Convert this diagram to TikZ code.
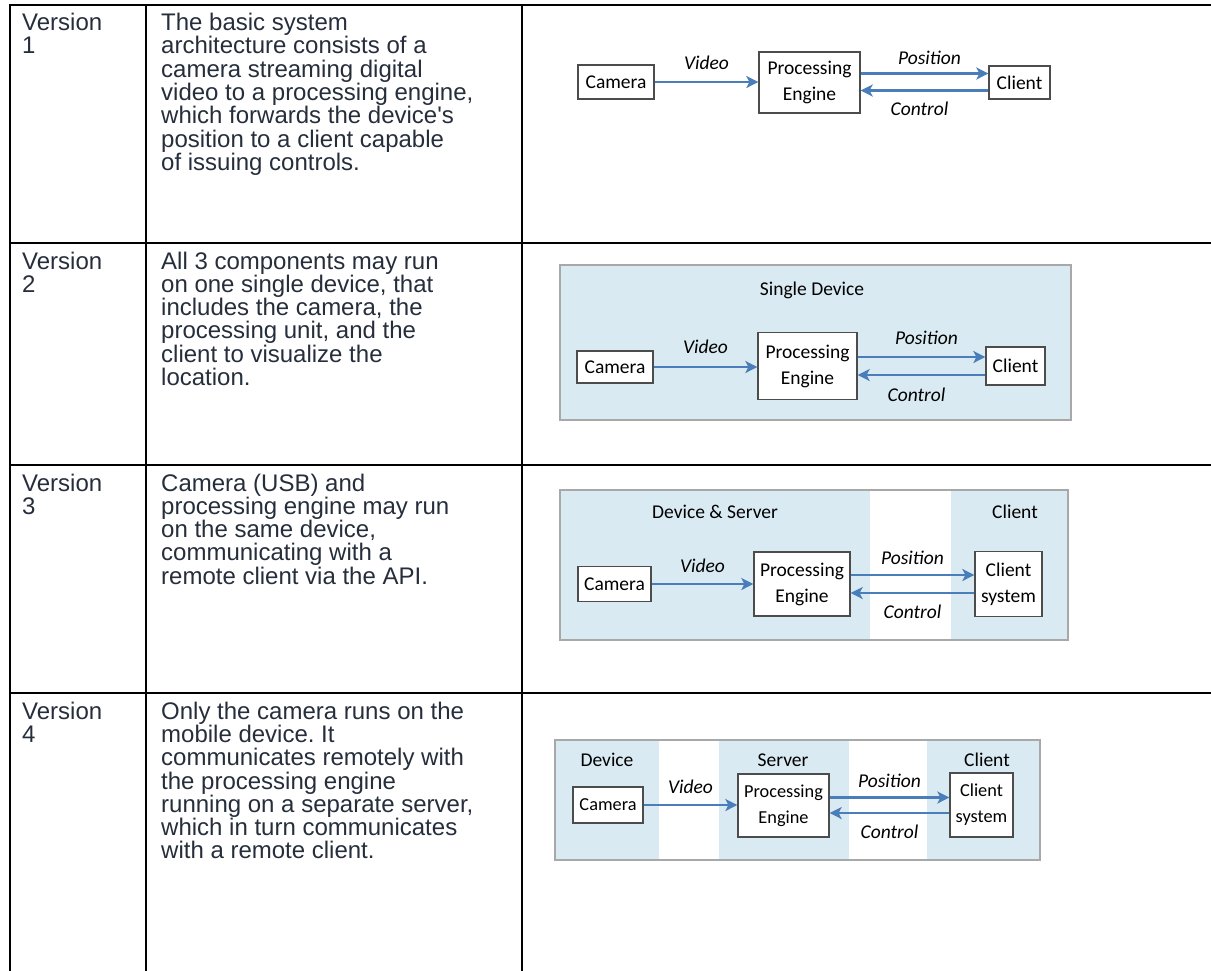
\documentclass[tikz,border=0pt]{standalone}
\usepackage{fontspec}
\setmainfont{Liberation Sans}
\newfontfamily\figfont{Carlito}
\usetikzlibrary{arrows.meta}
\frenchspacing

\definecolor{txtgray}{RGB}{38,46,60}
\definecolor{zoneblue}{RGB}{218,234,242}
\definecolor{flowblue}{RGB}{74,126,187}
\definecolor{zoneframe}{RGB}{168,168,168}

\tikzset{
  cell/.style={anchor=north west, align=left, inner sep=0pt, text=txtgray,
    font=\fontsize{24}{23.3}\selectfont},
  comp/.style={draw=black!70, fill=white, line width=1.3pt, align=center, inner sep=0pt,
    font=\figfont\fontsize{19.5}{26}\selectfont},
  smallcomp/.style={comp, font=\figfont\fontsize{18.3}{26}\selectfont},
  flow/.style={draw=flowblue, line width=2.6pt, -{Stealth[length=12pt,width=12pt,inset=3pt]}},
  lbl/.style={font=\figfont\itshape\fontsize{19.5}{21}\selectfont, midway},
  zonetitle/.style={font=\figfont\fontsize{19.5}{21}\selectfont},
  zone/.style={fill=zoneblue},
  zonebox/.style={draw=zoneframe, line width=2pt},
}

\begin{document}
\begin{tikzpicture}[x=1pt,y=-1pt]
  \useasboundingbox (0,0) rectangle (1211,970);
  \clip (0,0) rectangle (1211,970);

% table grid
  \draw[line width=2pt] (9.5,4.5) rectangle (1230,990);
  \foreach \y in {243,465,693} {
      \draw[line width=2pt] (9.5,\y) -- (1230,\y);
  }
  \foreach \x in {146,522} {
      \draw[line width=2pt] (\x,4.5) -- (\x,990);
  }

% table text
  \node[cell] (ver1) at (22,13) {Version\\1};
  \node[cell] (txt1) at (161,13) {The basic system\\architecture consists of a\\camera streaming digital\\video to a processing engine,\\which forwards the device\textquotesingle s\\position to a client capable\\of issuing controls.};
  \node[cell] (ver2) at (22,251.5) {Version\\2};
  \node[cell] (txt2) at (161,251.5) {All 3 components may run\\on one single device, that\\includes the camera, the\\processing unit, and the\\client to visualize the\\location.};
  \node[cell] (ver3) at (22,473.5) {Version\\3};
  \node[cell] (txt3) at (161,473.5) {Camera (USB) and\\processing engine may run\\on the same device,\\communicating with a\\remote client via the API.};
  \node[cell] (ver4) at (22,701.5) {Version\\4};
  \node[cell] (txt4) at (161,701.5) {Only the camera runs on the\\mobile device. It\\communicates remotely with\\the processing engine\\running on a separate server,\\which in turn communicates\\with a remote client.};

% version 1: plain chain
  \node[comp, minimum width=76pt, minimum height=34pt] (cam1) at (616,82) {Camera};
  \node[comp, minimum width=101pt, minimum height=61pt] (eng1) at (809.5,82.5) {Processing\\Engine};
  \node[comp, minimum width=61pt, minimum height=33pt] (cli1) at (1019.5,82.5) {Client};
  \draw[flow] (cam1.east) -- (cam1.east -| eng1.west) node[lbl, yshift=19pt] (vid1) {Video};
  \draw[flow] ([yshift=9pt]eng1.east) -- ([yshift=9pt]eng1.east -| cli1.west) node[lbl, yshift=16pt, xshift=5pt] (pos1) {Position};
  \draw[flow] ([yshift=-8pt]cli1.west) -- ([yshift=-8pt]cli1.west -| eng1.east) node[lbl, yshift=-18pt, xshift=-5pt] (ctl1) {Control};

% version 2: single device
  \fill[zone] (560,265) rectangle (1071,420);
  \draw[zonebox] (560,265) rectangle (1071,420);
  \node[zonetitle] (dev2) at (812,290) {Single Device};
  \node[comp, minimum width=76pt, minimum height=32pt] (cam2) at (615,367) {Camera};
  \node[comp, minimum width=99pt, minimum height=67pt] (eng2) at (807.5,366) {Processing\\Engine};
  \node[comp, minimum width=59pt, minimum height=38pt] (cli2) at (1015.5,366) {Client};
  \draw[flow] (cam2.east) -- (cam2.east -| eng2.west) node[lbl, yshift=20pt] (vid2) {Video};
  \draw[flow] ([yshift=9pt]eng2.east) -- ([yshift=9pt]eng2.east -| cli2.west) node[lbl, yshift=19pt, xshift=5pt] (pos2) {Position};
  \draw[flow] ([yshift=-9pt]cli2.west) -- ([yshift=-9pt]cli2.west -| eng2.east) node[lbl, yshift=-20pt, xshift=-5pt] (ctl2) {Control};

% version 3: device & server, client
  \fill[zone] (560,490) rectangle (870,640);
  \fill[zone] (951,490) rectangle (1068,640);
  \draw[zonebox] (560,490) rectangle (1068,640);
  \node[zonetitle] (dev3) at (715,512) {Device \& Server};
  \node[zonetitle] (clt3) at (1015,512) {Client};
  \node[comp, minimum width=73pt, minimum height=35pt] (cam3) at (614.5,584) {Camera};
  \node[comp, minimum width=96pt, minimum height=64pt] (eng3) at (802,584) {Processing\\Engine};
  \node[comp, minimum width=67pt, minimum height=65pt] (cli3) at (1008.5,584) {Client\\system};
  \draw[flow] (cam3.east) -- (cam3.east -| eng3.west) node[lbl, yshift=18pt] (vid3) {Video};
  \draw[flow] ([yshift=9pt]eng3.east) -- ([yshift=9pt]eng3.east -| cli3.west) node[lbl, yshift=17pt] (pos3) {Position};
  \draw[flow] ([yshift=-9pt]cli3.west) -- ([yshift=-9pt]cli3.west -| eng3.east) node[lbl, yshift=-19pt] (ctl3) {Control};

% version 4: device, server, client
  \fill[zone] (555,740) rectangle (659,860);
  \fill[zone] (719,740) rectangle (849,860);
  \fill[zone] (927,740) rectangle (1040,860);
  \draw[zonebox] (555,740) rectangle (1040,860);
  \node[zonetitle] (dev4) at (607,760) {Device};
  \node[zonetitle] (srv4) at (783,760) {Server};
  \node[zonetitle] (clt4) at (987,760) {Client};
  \node[smallcomp, minimum width=70pt, minimum height=36pt] (cam4) at (608,805) {Camera};
  \node[smallcomp, minimum width=91pt, minimum height=63pt] (eng4) at (783.5,805.5) {Processing\\Engine};
  \node[smallcomp, minimum width=63pt, minimum height=64pt] (cli4) at (981.5,805) {Client\\system};
  \draw[flow] (cam4.east) -- (cam4.east -| eng4.west) node[lbl, yshift=18pt] (vid4) {Video};
  \draw[flow] ([yshift=8pt]eng4.east) -- ([yshift=8pt]eng4.east -| cli4.west) node[lbl, yshift=17pt] (pos4) {Position};
  \draw[flow] ([yshift=-8pt]cli4.west) -- ([yshift=-8pt]cli4.west -| eng4.east) node[lbl, yshift=-19pt] (ctl4) {Control};

\end{tikzpicture}
\end{document}
